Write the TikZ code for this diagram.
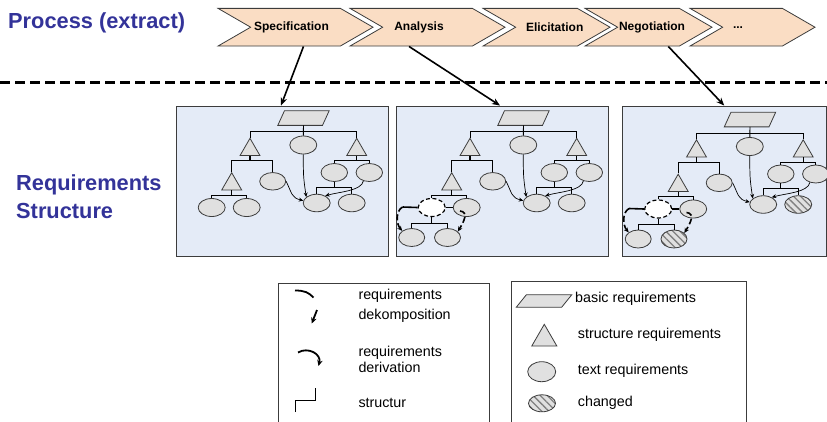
\documentclass[tikz,border=0pt]{standalone}
\usepackage{fontspec}
\setmainfont{Liberation Sans}
\usetikzlibrary{shapes.geometric,shapes.symbols,arrows.meta,patterns.meta,calc}
\definecolor{titleblue}{RGB}{51,51,153}
\definecolor{chevfill}{RGB}{250,221,196}
\definecolor{boxfill}{RGB}{228,235,247}
\definecolor{nodefill}{RGB}{224,224,224}
\definecolor{edgegray}{RGB}{60,60,60}
\tikzset{
 chev/.style={shape=signal, signal from=west, signal to=east, signal pointer angle=60, draw=edgegray, line width=0.8pt, fill=chevfill, minimum height=37.7pt, inner sep=0pt},
 ctext/.style={font=\bfseries\fontsize{12}{14}\selectfont, inner sep=0pt},
 rbox/.style={draw=edgegray, line width=0.9pt, fill=boxfill, inner sep=0pt},
 lbox/.style={draw=edgegray, line width=0.9pt, fill=white, inner sep=0pt},
 parabox/.style={inner sep=0pt, draw=none},
 parast/.style={draw=edgegray, fill=nodefill, line width=0.8pt},
 tri/.style={regular polygon, regular polygon sides=3, draw=edgegray, fill=nodefill, line width=0.8pt, minimum size=23pt, inner sep=0pt},
 ell/.style={ellipse, draw=edgegray, fill=nodefill, line width=0.8pt, minimum width=27pt, minimum height=18pt, inner sep=0pt},
 dell/.style={ell, fill=white, draw=black, line width=1.2pt, dash pattern=on 4pt off 2.5pt},
 hell/.style={ell, preaction={fill=nodefill}, pattern={Lines[angle=-45,distance=5pt,line width=1.3pt]}, pattern color=gray},
 struct/.style={line width=0.9pt},
 stem/.style={line width=1.4pt},
 deriv/.style={line width=0.7pt, -{Stealth[length=4.5pt,width=4pt]}},
 dekarr/.style={line width=1.6pt, dash pattern=on 6pt off 3pt, -{Stealth[length=5pt,width=4.5pt]}},
 dekline/.style={line width=1.6pt},
 lgdek/.style={line width=1.8pt},
 lgarr/.style={line width=1.8pt, -{Stealth[length=6pt,width=5.5pt]}},
 proc/.style={line width=1.6pt, -{Stealth[length=8pt,width=6.5pt]}},
 sepline/.style={line width=3pt, dash pattern=on 10pt off 5pt},
 lgtext/.style={font=\fontsize{14.3}{16}\selectfont, anchor=mid west, inner sep=0pt},
 ttl/.style={font=\bfseries\fontsize{21.8}{24}\selectfont, text=titleblue, inner sep=0pt, anchor=base west},
}
% #1 name, #2 centre, #3 total width, #4 height, #5 slant
\newcommand{\paranode}[5]{%
 \node[parabox, minimum width=#3, minimum height=#4] (#1) at #2 {};
 \draw[parast] ([xshift=#5]#1.north west) -- (#1.north east) -- ([xshift=-#5]#1.south east) -- (#1.south west) -- cycle;
}
\newcommand{\reqtree}[3]{%
 \paranode{#1P}{(303.5,118)}{51pt}{14.3pt}{6.7pt}
 \node[tri] (#1T1) at (250,149.8) {};
 \node[ell] (#1E1) at (303.3,145) {};
 \node[tri] (#1T2) at (356.7,149.8) {};
 \node[tri] (#1T3) at (231.7,184.2) {};
 \node[ell, minimum width=26pt, minimum height=17.5pt] (#1E2) at (272.7,181.3) {};
 \node[#2] (#1E3) at (211.7,207.5) {};
 \node[ell] (#1E4) at (246.7,207.5) {};
 \node[ell, minimum width=26.5pt] (#1E5) at (334.3,172.5) {};
 \node[ell, minimum width=26.5pt] (#1E6) at (369.3,172.5) {};
 \node[ell, minimum height=17.5pt] (#1E7) at (316.7,203) {};
 \node[#3, minimum height=17.5pt] (#1E8) at (351.7,203) {};
 \coordinate (#1y1) at (0,131.7);
 \coordinate (#1y2) at (0,160.7);
 \coordinate (#1y3) at (0,195);
 \coordinate (#1y5) at (0,187.3);
 \draw[struct] (#1P.south) -- (#1E1.north);
 \draw[struct] (#1T1.north) -- (#1T1.north |- #1y1) -- (#1T2.north |- #1y1) -- (#1T2.north);
 \draw[stem] (#1T1.south) -- (#1T1.south |- #1y2);
 \draw[struct] (#1T3.north) -- (#1T3.north |- #1y2) -- (#1E2.north |- #1y2) -- (#1E2.north);
 \draw[stem] (#1T2.south) -- (#1T2.south |- #1y2);
 \draw[struct] (#1E5.north) -- (#1E5.north |- #1y2) -- (#1E6.north |- #1y2) -- (#1E6.north);
 \draw[stem] (#1T3.south) -- (#1T3.south |- #1y3);
 \draw[struct] (#1E3.north) -- (#1E3.north |- #1y3) -- (#1E4.north |- #1y3) -- (#1E4.north);
 \draw[struct] (#1E5.south) -- (#1E5.south |- #1y5);
 \draw[struct] (#1E7.north) -- (#1E7.north |- #1y5) -- (#1E8.north |- #1y5) -- (#1E8.north);
 \draw[deriv] (#1E1.south) .. controls +(0,20) and +(-3,-20) .. (#1E7.150);
 \draw[deriv] (#1E2.east) .. controls +(6,12) and +(-12,-3) .. (#1E7.170);
 \draw[deriv] (#1E6.235) .. controls +(-2,10) and +(14,-4) .. (#1E7.40);
}
\newcommand{\dektree}[2]{%
 \node[ell, minimum width=26pt] (#1E9) at (191.7,237.5) {};
 \node[#2, minimum width=26pt] (#1E10) at (227.5,237.5) {};
 \coordinate (#1y4) at (0,223);
 \draw[struct] (#1E3.south) -- (#1E3.south |- #1y4);
 \draw[struct] (#1E9.north) -- (#1E9.north |- #1y4) -- (#1E10.north |- #1y4) -- (#1E10.north);
 \coordinate (#1dL) at (182.5,207);
 \coordinate (#1dR) at (240,211);
 \draw[dekline] (#1E3.west) -- (#1dL);
 \draw[dekline] (#1E3.east) -- (#1E4.west);
 \draw[dekarr] (#1dL) .. controls +(-7,4) and +(-6,-7) .. (#1E9.145);
 \draw[dekarr] (#1dR) .. controls +(9,1) and +(6,-10) .. (#1E10.30);
}
\begin{document}
\begin{tikzpicture}[x=1pt,y=-1pt]
\useasboundingbox (0,0) rectangle (827,421);
% titles
\node[ttl] (ttlP) at (8,28.3) {Process (extract)};
\node[ttl] (ttlR1) at (16,190.5) {Requirements};
\node[ttl] (ttlR2) at (16,218.5) {Structure};
% chevrons
\node[chev, minimum width=155pt] (c1) at (295.5,27.2) {};
\node[chev, minimum width=155pt] (c2) at (427.5,27.2) {};
\node[chev, minimum width=127pt] (c3) at (546.5,27.2) {};
\node[chev, minimum width=127pt] (c4) at (648.5,27.2) {};
\node[chev, minimum width=125pt] (c5) at (752.5,27.2) {};
\node[ctext] (t1) at (291.5,27.5) {Specification};
\node[ctext] (t2) at (419,27.5) {Analysis};
\node[ctext] (t3) at (554.7,27.5) {Elicitation};
\node[ctext] (t4) at (652,27.5) {Negotiation};
\node[ctext] (t5) at (738,27.5) {...};
% separator
\coordinate (sepL) at (0,82);
\coordinate (sepR) at (827,82);
\draw[sepline] (sepL) -- (sepR);
% boxes
\node[rbox, minimum width=212pt, minimum height=150pt] (box1) at (282,181) {};
\node[rbox, minimum width=212pt, minimum height=150pt] (box2) at (502,181) {};
\node[rbox, minimum width=204.5pt, minimum height=150pt] (box3) at (724.25,181) {};
\draw[proc] ([xshift=8pt]c1.south) -- ([xshift=-1pt]box1.north);
\draw[proc] ([xshift=-18.5pt]c2.south) -- ([xshift=-2pt]box2.north);
\draw[proc] ([xshift=19.8pt]c4.south) -- (box3.north);
% trees
\reqtree{a}{ell}{ell}
\begin{scope}[shift={(220,0)}]
\reqtree{b}{dell}{ell}
\dektree{b}{ell}
\end{scope}
\begin{scope}[shift={(446.5,1.5)}]
\reqtree{c}{dell}{hell}
\dektree{c}{hell}
\end{scope}
% legends
\node[lbox, minimum width=210.7pt, minimum height=150pt] (lgL) at (383.65,358.3) {};
\node[lbox, minimum width=234.3pt, minimum height=150pt] (lgR) at (628.85,356.7) {};
\coordinate (ldA) at (295,290.5);
\coordinate (ldB) at (313.5,297.5);
\coordinate (ldC) at (317,310);
\coordinate (ldD) at (311.7,323.5);
\draw[lgdek] (ldA) .. controls +(10,0) and +(-5,-5) .. (ldB);
\draw[lgarr] (ldC) -- (ldD);
\coordinate (lvA) at (298,352.5);
\coordinate (lvB) at (318.5,366);
\draw[lgarr] (lvA) .. controls +(10,-6) and +(3,-12) .. (lvB);
\coordinate (lsA) at (295,412);
\coordinate (lsM) at (315,400);
\coordinate (lsB) at (315,388.3);
\draw[struct] (lsA) |- (lsM) -- (lsB);
\node[lgtext] (lt1) at (358.3,297.3) {requirements};
\node[lgtext] (lt2) at (358.3,317.3) {dekomposition};
\node[lgtext] (lt3) at (358.3,354.3) {requirements};
\node[lgtext] (lt4) at (358.3,369.5) {derivation};
\node[lgtext] (lt5) at (358.3,405) {structur};
\paranode{lgP}{(544,301)}{55pt}{12pt}{10pt}
\node[tri, minimum size=29pt] (lgT) at (544.3,338.8) {};
\node[ell, minimum width=28pt, minimum height=20pt] (lgE) at (541.7,371.7) {};
\node[hell, minimum width=27pt, minimum height=17pt] (lgH) at (542,403.3) {};
\node[lgtext] (rt1) at (575,300) {basic requirements};
\node[lgtext] (rt2) at (577.7,336) {structure requirements};
\node[lgtext] (rt3) at (577.7,371.7) {text requirements};
\node[lgtext] (rt4) at (577.7,404.3) {changed};
\end{tikzpicture}
\end{document}
